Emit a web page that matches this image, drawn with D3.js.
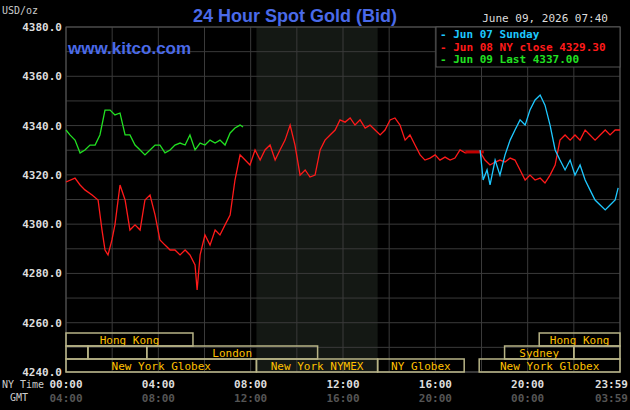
<!DOCTYPE html><html><head><meta charset="utf-8">
<script src="https://cdn.jsdelivr.net/npm/d3@7/dist/d3.min.js"></script>
<style>body{margin:0;background:#000}svg{display:block}text{font-family:"DejaVu Sans Mono",monospace}</style></head><body>
<svg id="c" width="630" height="410"></svg>
<script>
const yTicks=[4240,4260,4280,4300,4320,4340,4360,4380];
const xTickNY=["00:00","04:00","08:00","12:00","16:00","20:00","23:59"];
const xTickGMT=["04:00","08:00","12:00","16:00","20:00","00:00","03:59"];
const xTickHours=[0,4,8,12,16,20,24];
const redT=[0,0.39,0.61,0.82,1.13,1.39,1.56,1.69,1.82,1.99,2.12,2.34,2.56,2.77,2.99,3.21,3.42,3.64,3.86,4.07,4.29,4.51,4.72,4.94,5.16,5.37,5.59,5.68,5.81,6.02,6.24,6.46,6.67,6.89,7.11,7.32,7.54,7.76,7.97,8.19,8.41,8.62,8.84,9.06,9.27,9.49,9.71,9.92,10.14,10.36,10.57,10.79,11.01,11.22,11.44,11.66,11.87,12.09,12.31,12.52,12.74,12.96,13.17,13.39,13.61,13.82,14.04,14.25,14.47,14.69,14.90,15.12,15.34,15.55,15.77,15.99,16.20,16.42,16.64,16.85,17.07,17.29,17.50,17.94,18.15,18.37,18.59,18.80,19.02,19.24,19.45,19.67,19.89,20.10,20.32,20.54,20.75,20.97,21.19,21.40,21.62,21.84,22.05,22.27,22.49,22.70,22.92,23.14,23.36,23.57,23.79,24.0];
const redP=[4317.1,4318.7,4315.9,4313.9,4311.8,4309.8,4297.6,4289.5,4287.5,4293.6,4299.7,4315.9,4309.8,4297.6,4299.7,4297.6,4309.8,4311.8,4303.7,4293.6,4291.5,4289.5,4289.5,4287.5,4289.5,4287.5,4283.4,4273.3,4287.5,4295.6,4291.5,4297.6,4295.6,4299.7,4303.7,4317.9,4328.1,4326.0,4324.0,4330.1,4326.0,4330.1,4332.1,4326.0,4330.1,4334.1,4340.2,4332.1,4319.9,4322.0,4319.1,4319.9,4330.1,4334.1,4336.2,4338.2,4342.3,4341.4,4343.1,4340.2,4342.3,4339.0,4340.2,4338.2,4336.2,4338.2,4342.3,4343.1,4340.2,4334.1,4336.2,4332.1,4328.1,4326.0,4326.8,4328.1,4326.0,4327.2,4326.0,4326.8,4330.1,4328.9,4329.3,4329.3,4326.0,4324.0,4325.2,4326.0,4325.2,4326.8,4326.0,4322.0,4317.9,4319.9,4317.9,4318.7,4316.7,4319.9,4324.0,4334.1,4336.2,4334.1,4336.2,4334.1,4338.2,4336.2,4334.1,4336.2,4338.2,4336.2,4338.2,4338.2];
const greenT=[0,0.17,0.39,0.61,0.82,1.04,1.26,1.47,1.69,1.91,2.12,2.34,2.56,2.77,2.99,3.21,3.42,3.64,3.86,4.07,4.29,4.51,4.72,4.94,5.16,5.37,5.59,5.81,6.02,6.24,6.46,6.67,6.89,7.11,7.32,7.54,7.67];
const greenP=[4338.2,4336.2,4334.1,4328.9,4330.1,4332.1,4332.1,4336.2,4346.3,4346.3,4344.3,4345.1,4336.2,4336.2,4332.1,4330.1,4328.1,4330.1,4332.1,4332.1,4328.9,4330.1,4332.1,4332.9,4332.1,4336.2,4330.1,4332.9,4332.1,4334.1,4332.9,4334.1,4332.1,4337.0,4339.0,4340.2,4339.4];
const blueT=[17.94,18.07,18.24,18.37,18.59,18.80,19.02,19.24,19.45,19.67,19.89,20.10,20.32,20.54,20.75,20.97,21.19,21.40,21.62,21.84,22.05,22.27,22.49,22.70,22.92,23.14,23.36,23.57,23.79,23.92];
const blueP=[4330.1,4317.9,4322.0,4315.9,4326.0,4319.9,4328.1,4334.1,4338.2,4342.3,4340.2,4346.3,4350.4,4352.4,4348.3,4340.2,4330.1,4326.0,4322.0,4326.0,4319.9,4324.0,4317.9,4313.9,4309.8,4307.8,4305.8,4307.8,4309.8,4314.7];
const sessions=[
 {row:0,a:0,b:5.5,label:"Hong Kong"},{row:0,a:20.5,b:24,label:"Hong Kong"},
 {row:1,a:0,b:0.95,label:""},{row:1,a:0.95,b:3.5,label:""},{row:1,a:3.5,b:10.9,label:"London"},{row:1,a:19,b:22,label:"Sydney"},{row:1,a:22,b:24,label:""},
 {row:2,a:0,b:8.25,label:"New York Globex"},{row:2,a:8.25,b:13.5,label:"New York NYMEX"},{row:2,a:13.5,b:17.25,label:"NY Globex"},{row:2,a:17.9,b:24,label:"New York Globex"}];
const legend=[{t:"Jun 07 Sunday",c:"#1ec8ff"},{t:"Jun 08 NY close 4329.30",c:"#ff1a1a"},{t:"Jun 09 Last 4337.00",c:"#22e022"}];

const svg=d3.select("#c");
svg.append("rect").attr("width",630).attr("height",410).attr("fill","#000");
const x=d3.scaleLinear().domain([0,24]).range([66,620]);
const y=d3.scaleLinear().domain([4240,4380]).range([372,27]);
svg.append("rect").attr("x",x(8.25)).attr("y",27).attr("width",x(13.5)-x(8.25)).attr("height",345).attr("fill","#141814");
const g=svg.append("g");
d3.range(4240,4381,10).forEach(v=>g.append("line").attr("x1",66).attr("x2",620).attr("y1",y(v)).attr("y2",y(v)).attr("stroke","#3a3a3a"));
d3.range(0,25,2).forEach(h=>g.append("line").attr("x1",x(h)).attr("x2",x(h)).attr("y1",27).attr("y2",372).attr("stroke","#3a3a3a"));
svg.append("rect").attr("x",66).attr("y",27).attr("width",554).attr("height",345).attr("fill","none").attr("stroke","#555");
yTicks.forEach(v=>svg.append("text").attr("x",62).attr("y",y(v)+4).attr("text-anchor","end").attr("fill","#ddd").attr("font-size",11).attr("font-weight","bold").text(v.toFixed(1)));
xTickHours.forEach((h,i)=>{
 const anc=i==xTickHours.length-1?"end":"middle", xx=i==xTickHours.length-1?628:x(h);
 svg.append("text").attr("x",xx).attr("y",388).attr("text-anchor",anc).attr("fill","#ddd").attr("font-size",11).attr("font-weight","bold").text(xTickNY[i]);
 svg.append("text").attr("x",xx).attr("y",402).attr("text-anchor",anc).attr("fill","#555").attr("font-size",11).attr("font-weight","bold").text(xTickGMT[i]);
});
svg.append("text").attr("x",2).attr("y",388).attr("fill","#ccc").attr("font-size",10).text("NY Time");
svg.append("text").attr("x",10).attr("y",401).attr("fill","#ccc").attr("font-size",10).text("GMT");
const rowY=[333,346,359];
sessions.forEach(s=>{
 svg.append("rect").attr("x",x(s.a)).attr("y",rowY[s.row]).attr("width",x(s.b)-x(s.a)).attr("height",13).attr("fill","none").attr("stroke","#b8b486").attr("stroke-width",1.5);
 if(s.label) svg.append("text").attr("x",(x(s.a)+x(s.b))/2).attr("y",rowY[s.row]+10.5).attr("text-anchor","middle").attr("fill","#ffc000").attr("font-size",11).text(s.label);
});
const line=d3.line().x(d=>x(d[0])).y(d=>y(d[1]));
const draw=(T,P,c)=>svg.append("path").attr("d",line(d3.zip(T,P))).attr("fill","none").attr("stroke",c).attr("stroke-width",1.3);
draw(redT,redP,"#ff1a1a");
svg.append("path").attr("d",line([[17.3,4329.3],[18.1,4329.3]])).attr("stroke","#c00000").attr("stroke-width",3);
draw(greenT,greenP,"#22e022");
draw(blueT,blueP,"#1ec8ff");
svg.append("text").attr("x",295).attr("y",22).attr("text-anchor","middle").attr("fill","#4a6ae8").style("font-size","18px").style("font-weight","bold").style("font-family","'Liberation Sans', Arial, sans-serif").text("24 Hour Spot Gold (Bid)");
svg.append("text").attr("x",68).attr("y",54).attr("fill","#4a6ae8").style("font-size","17px").style("font-weight","bold").style("font-family","'Liberation Sans', Arial, sans-serif").text("www.kitco.com");
svg.append("text").attr("x",2).attr("y",14).attr("fill","#ccc").attr("font-size",10).text("USD/oz");
svg.append("text").attr("x",608).attr("y",22).attr("text-anchor","end").attr("fill","#ddd").attr("font-size",11).text("June 09, 2026 07:40");
svg.append("rect").attr("x",436).attr("y",27).attr("width",184).attr("height",40).attr("fill","#000").attr("stroke","#555");
legend.forEach((l,i)=>{
 svg.append("text").attr("x",440).attr("y",38+i*12.5).attr("fill",l.c).attr("font-size",11).attr("font-weight","bold").text("- "+l.t);
});
</script></body></html>
